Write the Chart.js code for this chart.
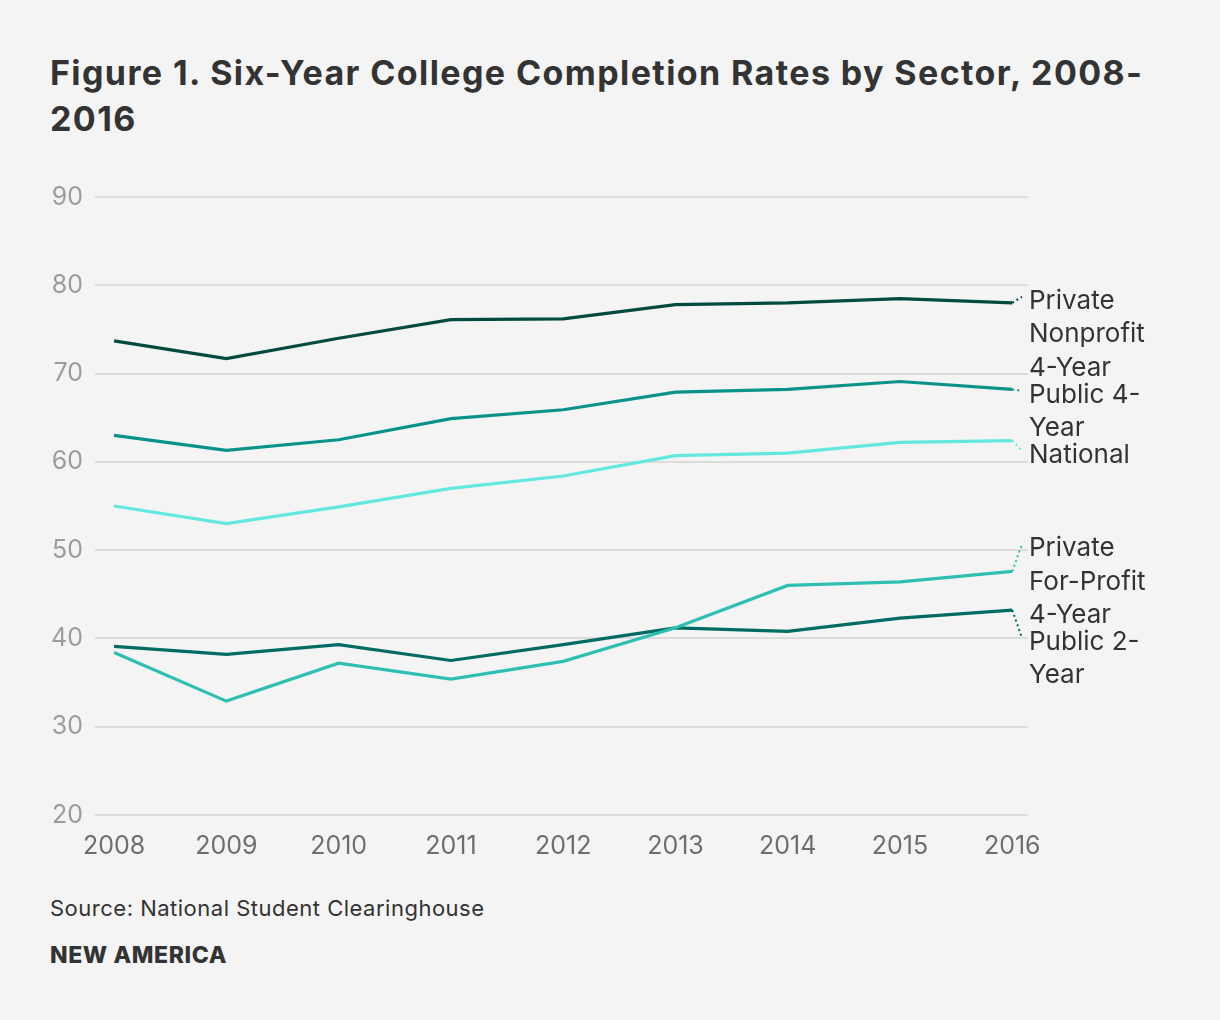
<!DOCTYPE html>
<html>
<head>
<meta charset="utf-8">
<script src="https://cdn.jsdelivr.net/npm/chart.js@4"></script>
<style>
  body { margin: 0; background: #f4f4f4; font-family: Inter, "Noto Sans", sans-serif; }
  #wrap { position: relative; width: 1220px; height: 1020px; }
  h1 { position: absolute; left: 50px; top: 50px; margin: 0; font-size: 34px; line-height: 46px; font-weight: 700; color: #333; letter-spacing: 1.4px; }
  #box { position: absolute; left: 0; top: 170px; width: 1220px; height: 707px; }
  .src { position: absolute; left: 50px; top: 895px; font-size: 22px; color: #333; letter-spacing: 0.5px; }
  .brand { position: absolute; left: 50px; top: 941px; font-size: 23px; font-weight: 800; color: #333; letter-spacing: 0.6px; }
</style>
</head>
<body>
<div id="wrap">
  <h1>Figure 1. Six-Year College Completion Rates by Sector, 2008-<br>2016</h1>
  <div id="box"><canvas id="myChart"></canvas></div>
  <div class="src">Source: National Student Clearinghouse</div>
  <div class="brand">NEW AMERICA</div>
</div>
<script>
var years = [2008, 2009, 2010, 2011, 2012, 2013, 2014, 2015, 2016];
var privateNonprofit = [73.7, 71.7, 74.0, 76.1, 76.2, 77.8, 78.0, 78.5, 78.0];
var public4Year = [63.0, 61.3, 62.5, 64.9, 65.9, 67.9, 68.2, 69.1, 68.2];
var national = [55.0, 53.0, 54.9, 57.0, 58.4, 60.7, 61.0, 62.2, 62.4];
var privateForProfit = [38.4, 32.9, 37.2, 35.4, 37.4, 41.2, 46.0, 46.4, 47.6];
var public2Year = [39.1, 38.2, 39.3, 37.5, 39.3, 41.2, 40.8, 42.3, 43.2];
var yTicks = [20, 30, 40, 50, 60, 70, 80, 90];

function pts(vals) {
  return vals.map(function (v, i) { return { x: years[i], y: v }; });
}

// label text lines and where the first line sits (in y-axis units)
var endLabels = [
  { lines: ['Private', 'Nonprofit', '4-Year'], at: 78.25 },
  { lines: ['Public 4-', 'Year'], at: 67.6 },
  { lines: ['National'], at: 60.8 },
  { lines: ['Private', 'For-Profit', '4-Year'], at: 50.2 },
  { lines: ['Public 2-', 'Year'], at: 39.6 }
];

var labelPlugin = {
  id: 'endLabels',
  afterDatasetsDraw: function (chart) {
    var ctx = chart.ctx;
    var ys = chart.scales.y;
    var xr = chart.chartArea.right;
    ctx.save();
    chart.data.datasets.forEach(function (ds, i) {
      var meta = chart.getDatasetMeta(i);
      var last = meta.data[meta.data.length - 1];
      var lab = endLabels[i];
      var ty = ys.getPixelForValue(lab.at);
      // dotted connector
      ctx.beginPath();
      ctx.setLineDash([2, 3]);
      ctx.strokeStyle = ds.borderColor;
      ctx.lineWidth = 2;
      ctx.moveTo(last.x, last.y);
      ctx.lineTo(xr - 6, ty - 4);
      ctx.stroke();
      ctx.setLineDash([]);
      ctx.fillStyle = '#333';
      ctx.font = '26px Inter, "Noto Sans", sans-serif';
      ctx.textBaseline = 'middle';
      ctx.textAlign = 'left';
      lab.lines.forEach(function (t, k) {
        ctx.fillText(t, xr + 1, ty + k * 33.5);
      });
    });
    ctx.restore();
  }
};

var ctx = document.getElementById('myChart').getContext('2d');
var chart = new Chart(ctx, {
  type: 'line',
  data: {
    datasets: [
      { label: 'Private Nonprofit 4-Year', data: pts(privateNonprofit), borderColor: '#004a40' },
      { label: 'Public 4-Year', data: pts(public4Year), borderColor: '#08938a' },
      { label: 'National', data: pts(national), borderColor: '#62e8de' },
      { label: 'Private For-Profit 4-Year', data: pts(privateForProfit), borderColor: '#2fbfb2' },
      { label: 'Public 2-Year', data: pts(public2Year), borderColor: '#006b62' }
    ]
  },
  plugins: [labelPlugin],
  options: {
    responsive: true,
    maintainAspectRatio: false,
    animation: false,
    layout: { padding: { top: 11, right: 192, left: 0, bottom: 0 } },
    elements: {
      line: { borderWidth: 3.2, tension: 0, fill: false },
      point: { radius: 0, hoverRadius: 0 }
    },
    plugins: { legend: { display: false }, tooltip: { enabled: false } },
    scales: {
      x: {
        type: 'linear',
        min: 2007.83,
        max: 2016.14,
        afterBuildTicks: function (axis) {
          axis.ticks = years.map(function (v) { return { value: v }; });
        },
        grid: { display: false, drawTicks: false },
        border: { display: false },
        ticks: {
          color: '#6e6e6e',
          font: { size: 25, family: 'Inter, "Noto Sans", sans-serif' },
          padding: 16,
          maxRotation: 0,
          callback: function (v) { return String(v); }
        }
      },
      y: {
        min: 20,
        max: 90,
        afterBuildTicks: function (axis) {
          axis.ticks = yTicks.map(function (v) { return { value: v }; });
        },
        afterFit: function (axis) { axis.width = 95; },
        grid: { color: '#dcdcdc', lineWidth: 2, drawTicks: false },
        border: { display: false },
        ticks: {
          color: '#9c9c9c',
          font: { size: 25, family: 'Inter, "Noto Sans", sans-serif' },
          padding: 12
        }
      }
    }
  }
});
</script>
</body>
</html>
